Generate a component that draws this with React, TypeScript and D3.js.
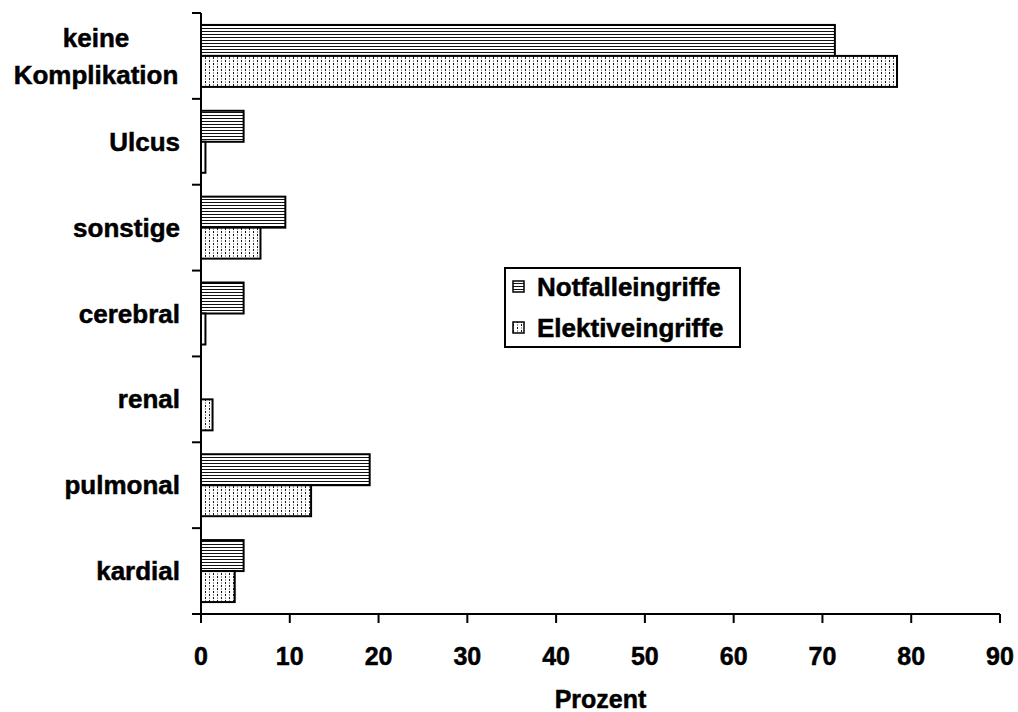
import React from "react";
import * as d3 from "d3";

// Komplikationen nach Eingriffsart (Prozent)
const categories = [
  "keine Komplikation",
  "Ulcus",
  "sonstige",
  "cerebral",
  "renal",
  "pulmonal",
  "kardial",
];
const seriesNames = ["Notfalleingriffe", "Elektiveingriffe"];
const notfall = [71.4, 4.8, 9.5, 4.8, 0, 19.0, 4.8];
const elektiv = [78.4, 0.5, 6.7, 0.5, 1.3, 12.4, 3.8];
const xTicks = [0, 10, 20, 30, 40, 50, 60, 70, 80, 90];

const W = 1018;
const H = 712;
const FONT = "'Liberation Sans', Arial, sans-serif";

export default function App() {
  const x = d3.scaleLinear().domain([0, 90]).range([201, 1000]);
  const y = d3.scaleBand<string>().domain(categories).range([13, 614]).padding(0);
  const ySub = d3
    .scaleBand<string>()
    .domain(seriesNames)
    .range([0, y.bandwidth()])
    .paddingInner(0)
    .paddingOuter(0.385);

  const values = [notfall, elektiv];
  const fills = ["url(#hlines)", "url(#dots)"];

  // slight outline thickens the bold glyphs
  const textProps = { fill: "#000", stroke: "#000", strokeWidth: 0.5 };

  return (
    <svg
      width={W}
      height={H}
      style={{ position: "absolute", left: 0, top: 0, background: "#fff" }}
      fontFamily={FONT}
      fontWeight="bold"
    >
      <defs>
        <pattern id="hlines" width="6" height="3" patternUnits="userSpaceOnUse">
          <rect width="6" height="3" fill="#fff" />
          <rect y="1" width="6" height="1" fill="#111" />
        </pattern>
        <pattern id="dots" width="8" height="6" patternUnits="userSpaceOnUse">
          <rect width="8" height="6" fill="#fff" />
          <rect x="1" y="0" width="1" height="2" fill="#111" />
          <rect x="5" y="3" width="1" height="2" fill="#111" />
          <rect x="1" y="3" width="1" height="2" fill="#999" />
          <rect x="5" y="0" width="1" height="2" fill="#999" />
        </pattern>
      </defs>

      {/* bars */}
      {categories.map((c, i) =>
        seriesNames.map((s, j) => {
          const v = values[j][i];
          if (v <= 0) return null;
          return (
            <rect
              key={c + s}
              x={x(0)}
              y={(y(c) as number) + (ySub(s) as number)}
              width={x(v) - x(0)}
              height={ySub.bandwidth()}
              fill={fills[j]}
              stroke="#000"
              strokeWidth={2}
            />
          );
        })
      )}

      {/* y axis */}
      <line x1={x(0)} x2={x(0)} y1={13} y2={614} stroke="#000" strokeWidth={2} />
      {categories.map((c) => (
        <line
          key={"yt" + c}
          x1={x(0) - 9}
          x2={x(0)}
          y1={y(c) as number}
          y2={y(c) as number}
          stroke="#000"
          strokeWidth={2}
        />
      ))}
      <line x1={x(0) - 9} x2={x(0)} y1={614} y2={614} stroke="#000" strokeWidth={2} />

      {/* category labels */}
      {categories.map((c) => {
        const cy = (y(c) as number) + y.bandwidth() / 2;
        if (c === "keine Komplikation") {
          return (
            <text key={"yl" + c} fontSize={26} textAnchor="middle" {...textProps}>
              <tspan x={96} y={cy - 18.5} dy="0.35em">keine</tspan>
              <tspan x={96} y={cy + 18.5} dy="0.35em">Komplikation</tspan>
            </text>
          );
        }
        return (
          <text
            key={"yl" + c}
            x={180}
            y={cy}
            dy="0.35em"
            fontSize={26}
            textAnchor="end"
            {...textProps}
          >
            {c}
          </text>
        );
      })}

      {/* x axis */}
      <line x1={x(0) - 8} x2={x(90)} y1={614} y2={614} stroke="#000" strokeWidth={2} />
      {xTicks.map((t) => (
        <g key={"xt" + t}>
          <line x1={x(t)} x2={x(t)} y1={614} y2={623} stroke="#000" strokeWidth={2} />
          <text x={x(t)} y={665} fontSize={25} textAnchor="middle" {...textProps}>
            {t}
          </text>
        </g>
      ))}
      <text x={x(45)} y={708} fontSize={25} textAnchor="middle" {...textProps}>
        Prozent
      </text>

      {/* legend */}
      <rect x={505} y={268} width={235} height={79} fill="#fff" stroke="#000" strokeWidth={2} />
      {seriesNames.map((s, j) => (
        <g key={"lg" + s}>
          <rect
            x={513}
            y={281 + j * 41}
            width={11}
            height={11}
            fill={fills[j]}
            stroke="#000"
            strokeWidth={1.5}
          />
          <text x={537} y={287 + j * 41} dy="0.35em" fontSize={26} {...textProps}>
            {s}
          </text>
        </g>
      ))}
    </svg>
  );
}
